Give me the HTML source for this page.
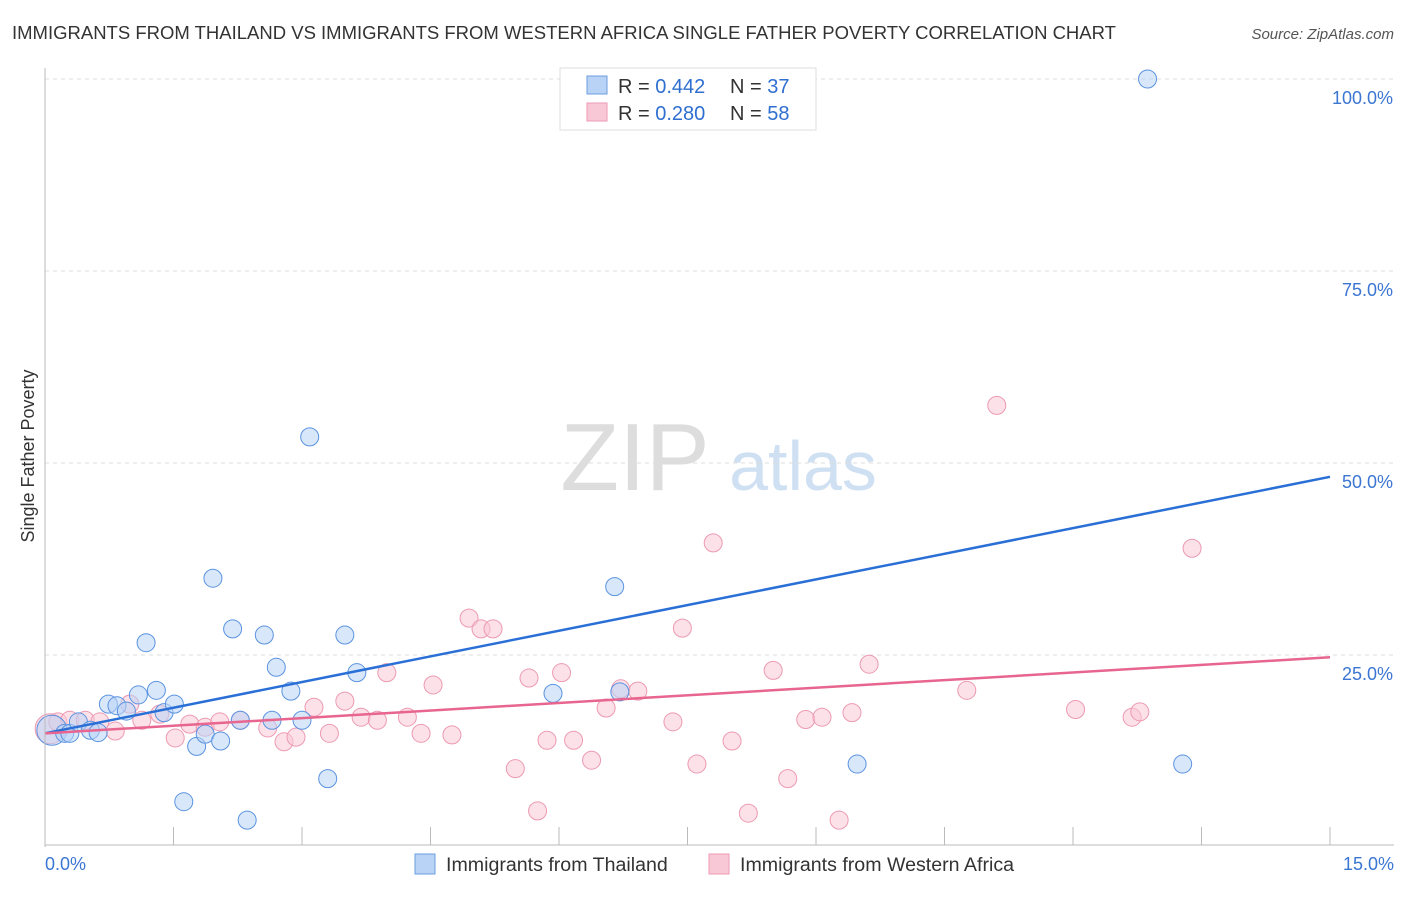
<!DOCTYPE html>
<html><head><meta charset="utf-8"><style>
body{margin:0;background:#fff;font-family:"Liberation Sans",sans-serif;}
svg text{font-family:"Liberation Sans",sans-serif;}
</style></head><body>
<svg id="chart" width="1406" height="892" xmlns="http://www.w3.org/2000/svg">
<text x="12" y="39" font-size="18.5" fill="#333">IMMIGRANTS FROM THAILAND VS IMMIGRANTS FROM WESTERN AFRICA SINGLE FATHER POVERTY CORRELATION CHART</text>
<text x="1394" y="39" font-size="15" fill="#555" text-anchor="end" font-style="italic">Source: ZipAtlas.com</text>
<text transform="translate(34,456) rotate(-90)" font-size="18" fill="#333" text-anchor="middle">Single Father Poverty</text>
<g>
<text x="635" y="490" font-size="96" fill="#ddd" text-anchor="middle" font-family="Liberation Serif">ZIP</text>
<text x="803" y="490" font-size="70" fill="#cfe0f3" text-anchor="middle">atlas</text>
</g>
<g id="grid"></g><g id="pts"></g><g id="lines"></g><g id="axes"></g>
<g>
<rect x="560" y="68" width="256" height="62" fill="#fff" stroke="#ddd"/>
<rect x="587" y="76" width="20" height="18" fill="#b8d3f5" stroke="#6c9ee0"/>
<rect x="587" y="103" width="20" height="18" fill="#f9c8d6" stroke="#ec9ab2"/>
<text x="618" y="93" font-size="20" fill="#333">R = <tspan fill="#2f6fd0">0.442</tspan><tspan x="730">N = </tspan><tspan fill="#2f6fd0">37</tspan></text>
<text x="618" y="120" font-size="20" fill="#333">R = <tspan fill="#2f6fd0">0.280</tspan><tspan x="730">N = </tspan><tspan fill="#2f6fd0">58</tspan></text>
</g>
<g>
<rect x="415" y="854" width="20" height="20" fill="#b8d3f5" stroke="#6c9ee0"/>
<text x="446" y="871" font-size="19.6" fill="#333">Immigrants from Thailand</text>
<rect x="709" y="854" width="20" height="20" fill="#f9c8d6" stroke="#ec9ab2"/>
<text x="740" y="871" font-size="19.6" fill="#333">Immigrants from Western Africa</text>
</g>
</svg>
<script>
const blueX=[0.08,0.23,0.29,0.39,0.53,0.62,0.74,0.84,0.95,1.09,1.18,1.30,1.39,1.51,1.62,1.77,1.87,1.96,2.05,2.19,2.28,2.36,2.56,2.65,2.70,2.87,3.00,3.09,3.30,3.50,3.64,5.93,6.65,6.71,9.48,12.87,13.28];
const blueY=[15.2,14.8,14.8,16.3,15.2,14.9,18.6,18.4,17.7,19.8,26.6,20.4,17.5,18.6,5.9,13.1,14.7,35.0,13.8,28.4,16.5,3.5,27.6,16.5,23.4,20.3,16.5,53.4,8.9,27.6,22.7,20.0,33.9,20.2,10.8,100.0,10.8];
const pinkX=[0.06,0.15,0.29,0.47,0.64,0.82,0.99,1.13,1.34,1.52,1.69,1.87,2.04,2.28,2.60,2.79,2.93,3.14,3.32,3.50,3.69,3.88,3.99,4.23,4.39,4.53,4.75,4.95,5.09,5.23,5.49,5.65,5.75,5.86,6.03,6.17,6.38,6.55,6.72,6.92,7.33,7.44,7.61,7.80,8.02,8.21,8.50,8.67,8.88,9.07,9.27,9.42,9.62,10.76,11.11,12.03,12.69,12.78,13.39];
const pinkY=[15.4,16.3,16.5,16.5,16.3,15.1,18.6,16.5,17.3,14.2,16.0,15.6,16.3,16.5,15.5,13.7,14.3,18.2,14.8,19.0,16.9,16.5,22.7,16.9,14.8,21.1,14.6,29.8,28.4,28.4,10.2,22.0,4.7,13.9,22.7,13.9,11.3,18.1,20.6,20.3,16.3,28.5,10.8,39.6,13.8,4.4,23.0,8.9,16.6,16.9,3.5,17.5,23.8,20.4,57.5,17.9,16.9,17.6,38.9];
const blueTrend=[14.8,48.2];
const pinkTrend=[14.8,24.7];
const yTicks=[25,50,75,100];
const xTickLabels=["0.0%","15.0%"];
const NS="http://www.w3.org/2000/svg";
const X=v=>45+v*(1285/15), Y=v=>847-v*7.68;
function mk(t,a,p){const e=document.createElementNS(NS,t);for(const k in a)e.setAttribute(k,a[k]);document.getElementById(p).appendChild(e);return e;}
yTicks.forEach(t=>{
 const l=mk('line',{x1:45,x2:1394,y1:Y(t),y2:Y(t),stroke:'#ddd','stroke-dasharray':'4,4'},'grid');
 
 
 const tx=mk('text',{x:1393,y:Y(t)+25,'font-size':18,fill:'#3a76d2','text-anchor':'end'},'axes');tx.textContent=t.toFixed(1)+'%';
 
 
});
mk('line',{x1:45,x2:45,y1:68,y2:847,stroke:'#bbb'},'axes');
mk('line',{x1:45,x2:1394,y1:845,y2:845,stroke:'#bbb'},'axes');
for(let i=1;i<=10;i++){const l=mk('line',{x1:X(i*1.5),x2:X(i*1.5),y1:827,y2:845,stroke:'#bbb'},'axes');
 
 }
[[0,'start',45],[15,'end',1394]].forEach((d,i)=>{const t=mk('text',{x:d[2],y:870,'font-size':18,fill:'#3a76d2','text-anchor':d[1]},'axes');t.textContent=xTickLabels[i];
 
 });
function pts(xs,ys,fill,stroke,name){xs.forEach((x,i)=>{const big=i===0;
 const c=mk('circle',{cx:X(x),cy:Y(ys[i]),r:big?15:9,fill:fill,'fill-opacity':0.55,stroke:stroke,'stroke-width':1},'pts');
 
 });}
pts(pinkX,pinkY,'#f9c8d6','#ec9ab2','point-western-africa');
pts(blueX,blueY,'#b8d3f5','#5b93e0','point-thailand');
const b=mk('line',{x1:X(0),y1:Y(blueTrend[0]),x2:X(15),y2:Y(blueTrend[1]),stroke:'#2a6fd6','stroke-width':2.5},'lines');


const p=mk('line',{x1:X(0),y1:Y(pinkTrend[0]),x2:X(15),y2:Y(pinkTrend[1]),stroke:'#e7658f','stroke-width':2.5},'lines');


</script>
</body></html>
